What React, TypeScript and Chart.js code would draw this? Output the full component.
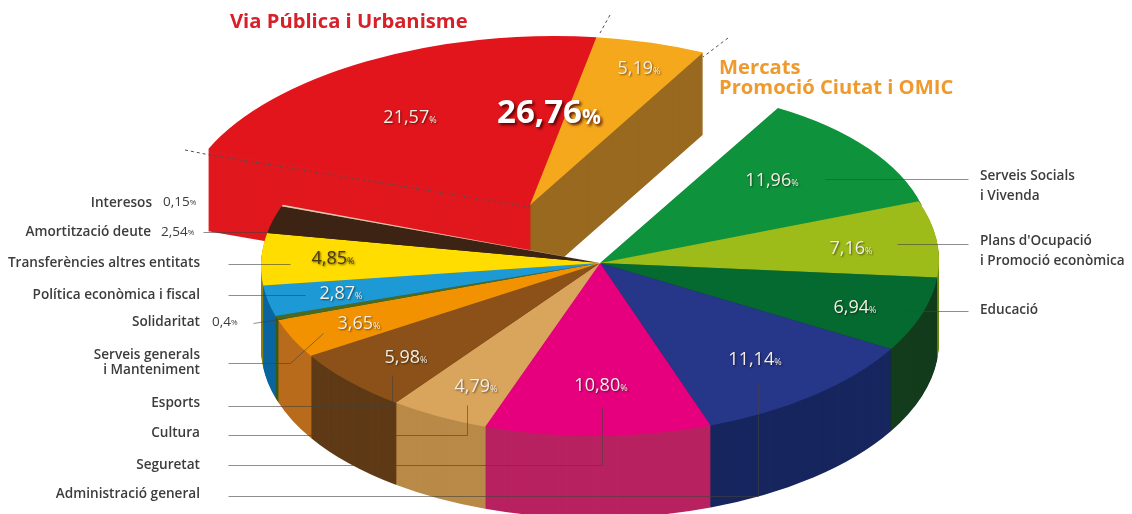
import React, { useEffect, useRef } from "react";
import { Chart, registerables } from "chart.js";

Chart.register(...registerables);

// ---- data (clockwise from the green slice) ----
const categories = [
  "Serveis Socials\ni Vivenda",
  "Plans d'Ocupació\ni Promoció econòmica",
  "Educació",
  "Administració general",
  "Seguretat",
  "Cultura",
  "Esports",
  "Serveis generals\ni Manteniment",
  "Solidaritat",
  "Política econòmica i fiscal",
  "Transferències altres entitats",
  "Amortització deute",
  "Interesos",
  "Via Pública i Urbanisme",
  "Mercats\nPromoció Ciutat i OMIC",
];
const values = [11.96, 7.16, 6.94, 11.14, 10.8, 4.79, 5.98, 3.65, 0.4, 2.87, 4.85, 2.54, 0.15, 21.57, 5.19];
const valueLabels = ["11,96", "7,16", "6,94", "11,14", "10,80", "4,79", "5,98", "3,65", "0,4", "2,87", "4,85", "2,54", "0,15", "21,57", "5,19"];
const groupLabel = "26,76";
const topColors = ["#0E923C", "#9DBB19", "#056A2F", "#263689", "#E6007E", "#D9A55C", "#8B5118", "#F39200", "#4A6A20", "#1D9AD6", "#FFDD00", "#3D2314", "#E8C8B0", "#E2151C", "#F6A81C"];
const wallColors = ["#0B6A2C", "#6E8A10", "#123C1C", "#17265E", "#B82260", "#B98A48", "#5F3A16", "#B96B1C", "#3A5A18", "#0B659F", "#8A8010", "#2A180C", "#A89080", "#E0181E", "#98691E"];
const explodedFirstIndex = 13;

// ---- projection of the pie onto the page (2x2 matrices, per unit radius) ----
const DEPTH = 82;
const MAIN = { a: 339, b: -3, c: 0, d: 173, dx: 0, dy: 3 };
const GREEN = { a: 331, b: 2, c: -31, d: 175, dx: 0, dy: 3 };
const POPPED = { a: 350, b: -4, c: -16, d: 169, dx: -70, dy: -55 };

// ---- layout of the annotations ----
const sideLabels = [
  { i: 0, x: 980, y: 176, align: "left", line: [[968, 179], [825, 179]] },
  { i: 1, x: 980, y: 241, align: "left", line: [[968, 244], [897, 244]] },
  { i: 2, x: 980, y: 310, align: "left", line: [[968, 311], [905, 311]] },
  { i: 3, x: 200, y: 494, align: "right", line: [[228, 496], [758, 496], [758, 382]] },
  { i: 4, x: 200, y: 465, align: "right", line: [[228, 465], [602, 465], [602, 407]] },
  { i: 5, x: 200, y: 433, align: "right", line: [[228, 435], [467, 435], [467, 405]] },
  { i: 6, x: 200, y: 403, align: "right", line: [[228, 406], [392, 406], [392, 375]] },
  { i: 7, x: 200, y: 355, align: "right", line: [[228, 363], [290, 363], [323, 333]] },
  { i: 8, x: 200, y: 322, align: "right", line: [[253, 323], [285, 318]], val: [212, 322] },
  { i: 9, x: 200, y: 295, align: "right", line: [[228, 295], [305, 295]] },
  { i: 10, x: 200, y: 263, align: "right", line: [[228, 264], [290, 264]] },
  { i: 11, x: 151, y: 232, align: "right", line: [[203, 232], [268, 232]], val: [161, 232] },
  { i: 12, x: 152, y: 203, align: "right", line: null, val: [163, 202] },
];
const valuePos: Record<number, number[]> = {
  0: [772, 181], 1: [851, 249], 2: [855, 308], 3: [755, 360], 4: [601, 386], 5: [476, 387],
  6: [406, 358], 7: [359, 324], 9: [341, 294], 10: [333, 259], 13: [410, 118], 14: [639, 69],
};
const dashed = [
  [[185, 150], [210, 155], [530, 207]],
  [[610, 15], [600, 33]],
  [[728, 38], [703, 57]],
];
const FONT = '"Open Sans", sans-serif';

function percentText(ctx: any, text: string, x: number, y: number, size: number, weight: string, color: string, pctSize: number) {
  ctx.font = `${weight} ${size}px ${FONT}`;
  const w = ctx.measureText(text).width;
  ctx.font = `${weight} ${pctSize}px ${FONT}`;
  const pw = ctx.measureText("%").width;
  const left = x - (w + pw) / 2;
  ctx.textAlign = "left";
  ctx.textBaseline = "middle";
  ctx.fillStyle = color;
  ctx.font = `${weight} ${size}px ${FONT}`;
  ctx.fillText(text, left, y);
  ctx.font = `${weight} ${pctSize}px ${FONT}`;
  ctx.fillText("%", left + w, y + size * 0.12);
}

const pie3d = {
  id: "pie3d",
  beforeDatasetsDraw(chart: any) {
    const ctx = chart.ctx;
    const arcs = chart.getDatasetMeta(0).data;
    const R = arcs[0].outerRadius;
    const cx = arcs[0].x;
    const cy = arcs[0].y;
    const drawGroup = (idx: number[], matrixOf: (i: number) => any) => {
      for (let d = DEPTH; d >= 0; d--) {
        for (const i of idx) {
          const M = matrixOf(i);
          ctx.save();
          ctx.translate(cx + M.dx, cy + M.dy + d);
          ctx.transform(M.a / R, M.b / R, M.c / R, M.d / R, 0, 0);
          ctx.translate(-cx, -cy);
          const arc = arcs[i];
          const orig = arc.options;
          arc.options = { ...orig, backgroundColor: d === 0 ? topColors[i] : wallColors[i], borderWidth: 0 };
          arc.draw(ctx);
          arc.options = orig;
          ctx.restore();
        }
      }
    };
    const all = values.map((_, i) => i);
    drawGroup(all.filter((i) => i >= explodedFirstIndex), () => POPPED);
    // dashed marks on the pulled-out group
    ctx.save();
    ctx.strokeStyle = "#5a4a50";
    ctx.lineWidth = 1;
    ctx.setLineDash([3, 3]);
    for (const path of dashed) {
      ctx.beginPath();
      path.forEach((p, k) => (k ? ctx.lineTo(p[0], p[1]) : ctx.moveTo(p[0], p[1])));
      ctx.stroke();
    }
    ctx.restore();
    drawGroup(all.filter((i) => i < explodedFirstIndex), (i) => (i === 0 ? GREEN : MAIN));
    return false;
  },
  afterDraw(chart: any) {
    const ctx = chart.ctx;
    ctx.save();
    // leader lines
    ctx.strokeStyle = "rgba(70,65,60,0.6)";
    ctx.lineWidth = 1;
    for (const s of sideLabels) {
      if (!s.line) continue;
      ctx.beginPath();
      s.line.forEach((p, k) => (k ? ctx.lineTo(p[0] + 0.5, p[1] + 0.5) : ctx.moveTo(p[0] + 0.5, p[1] + 0.5)));
      ctx.stroke();
    }
    // category labels
    for (const s of sideLabels) {
      ctx.font = `600 13.6px ${FONT}`;
      ctx.fillStyle = "#3c3c3c";
      ctx.textAlign = s.align;
      ctx.textBaseline = "middle";
      categories[s.i].split("\n").forEach((line, k) => ctx.fillText(line, s.x, s.y + k * (s.align === "left" ? 20 : 15)));
      if (s.val) {
        ctx.font = `400 13.5px ${FONT}`;
        ctx.textAlign = "left";
        const t = valueLabels[s.i];
        const w = ctx.measureText(t).width;
        ctx.fillText(t, s.val[0], s.val[1]);
        ctx.font = `400 8px ${FONT}`;
        ctx.fillText("%", s.val[0] + w, s.val[1] + 1);
      }
    }
    // slice values
    ctx.shadowColor = "rgba(0,0,0,0.55)";
    ctx.shadowBlur = 2;
    ctx.shadowOffsetX = 1;
    ctx.shadowOffsetY = 1;
    for (const k of Object.keys(valuePos)) {
      const i = Number(k);
      const [x, y] = valuePos[i];
      const dark = i === 10;
      percentText(ctx, valueLabels[i], x, y, 18, "400", dark ? "#4a3a10" : "#F4EEE4", 9);
    }
    ctx.shadowColor = "rgba(60,0,0,0.85)";
    ctx.shadowBlur = 3;
    ctx.shadowOffsetX = 2;
    ctx.shadowOffsetY = 2;
    percentText(ctx, groupLabel, 549, 114, 33, "700", "#FFFFFF", 21);
    ctx.shadowColor = "transparent";
    ctx.shadowBlur = 0;
    ctx.shadowOffsetX = 0;
    ctx.shadowOffsetY = 0;
    // group titles
    ctx.textAlign = "left";
    ctx.textBaseline = "middle";
    ctx.font = `700 20.2px ${FONT}`;
    ctx.fillStyle = "#D8202A";
    ctx.fillText(categories[13], 230, 22);
    ctx.fillStyle = "#EE9A2E";
    const [m1, m2] = categories[14].split("\n");
    ctx.fillText(m1, 719, 68);
    ctx.fillText(m2, 719, 88);
    ctx.restore();
  },
};

export default function App() {
  const ref = useRef<HTMLCanvasElement>(null);
  useEffect(() => {
    const chart = new Chart(ref.current as HTMLCanvasElement, {
      type: "pie",
      data: {
        labels: categories,
        datasets: [{ data: values, backgroundColor: topColors, borderWidth: 0 }],
      },
      options: {
        responsive: false,
        animation: false,
        rotation: 27,
        layout: { padding: { left: 68, top: 6, right: 0, bottom: 0 } },
        plugins: { legend: { display: false }, tooltip: { enabled: false } },
      },
      plugins: [pie3d],
    } as any);
    return () => chart.destroy();
  }, []);
  return (
    <div style={{ position: "fixed", left: 0, top: 0, width: 1132, height: 514, background: "#fff" }}>
      <canvas ref={ref} width={1132} height={514} style={{ display: "block" }} />
    </div>
  );
}
